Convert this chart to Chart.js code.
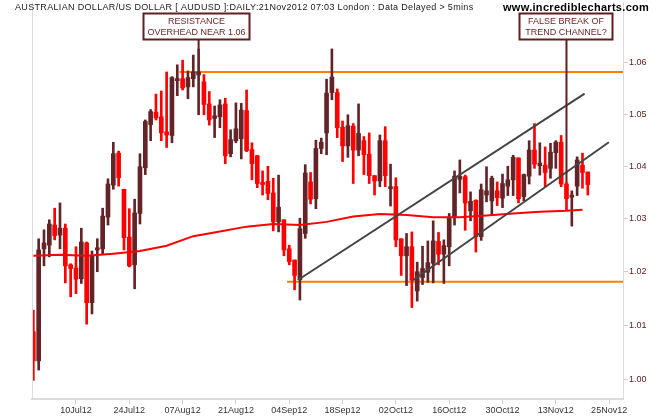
<!DOCTYPE html>
<html>
<head>
<meta charset="UTF-8">
<title>AUDUSD Daily</title>
<script src="https://cdn.jsdelivr.net/npm/chart.js"></script>
<style>
    body { margin: 0; background: #fff; }
    #audChart { display: block; }
</style>
</head>
<body>
<canvas id="audChart" width="660" height="420"></canvas>
<script>
    // one candle per trading day, first bar 28 Jun 2012, last 21 Nov 2012
    const opens = [
        1.0088, 1.0034, 1.0243, 1.0250, 1.0288, 1.0269, 1.0282, 1.0213, 1.0207, 1.0187,
        1.0254, 1.0142, 1.0241, 1.0243, 1.0303, 1.0364, 1.0425, 1.0356, 1.0265, 1.0213,
        1.0310, 1.0397, 1.0480, 1.0504, 1.0495, 1.0466, 1.0459, 1.0565, 1.0569, 1.0553,
        1.0569, 1.0576, 1.0563, 1.0520, 1.0492, 1.0495, 1.0520, 1.0424, 1.0449, 1.0453,
        1.0507, 1.0432, 1.0420, 1.0369, 1.0371, 1.0349, 1.0294, 1.0298, 1.0243, 1.0222,
        1.0185, 1.0272, 1.0370, 1.0338, 1.0434, 1.0464, 1.0542, 1.0542, 1.0475, 1.0439,
        1.0477, 1.0431, 1.0449, 1.0423, 1.0382, 1.0372, 1.0449, 1.0357, 1.0361, 1.0262,
        1.0230, 1.0247, 1.0164, 1.0189, 1.0199, 1.0216, 1.0257, 1.0233, 1.0247, 1.0302,
        1.0375, 1.0380, 1.0315, 1.0335, 1.0266, 1.0345, 1.0334, 1.0353, 1.0339, 1.0362,
        1.0374, 1.0416, 1.0342, 1.0381, 1.0431, 1.0401, 1.0402, 1.0396, 1.0426, 1.0446,
        1.0366, 1.0341, 1.0362, 1.0402, 1.0389
    ];
    const highs = [
        1.0128, 1.0262, 1.0279, 1.0298, 1.0320, 1.0330, 1.0290, 1.0215, 1.0247, 1.0282,
        1.0256, 1.0239, 1.0262, 1.0320, 1.0376, 1.0446, 1.0429, 1.0356, 1.0319, 1.0337,
        1.0424, 1.0489, 1.0509, 1.0539, 1.0545, 1.0582, 1.0573, 1.0596, 1.0605, 1.0584,
        1.0615, 1.0627, 1.0577, 1.0544, 1.0516, 1.0528, 1.0531, 1.0470, 1.0522, 1.0521,
        1.0547, 1.0445, 1.0421, 1.0391, 1.0400, 1.0377, 1.0383, 1.0298, 1.0250, 1.0222,
        1.0301, 1.0403, 1.0388, 1.0450, 1.0454, 1.0568, 1.0627, 1.0549, 1.0487, 1.0499,
        1.0482, 1.0520, 1.0457, 1.0464, 1.0382, 1.0460, 1.0476, 1.0404, 1.0378, 1.0262,
        1.0272, 1.0275, 1.0218, 1.0248, 1.0258, 1.0296, 1.0274, 1.0260, 1.0310, 1.0391,
        1.0412, 1.0383, 1.0351, 1.0336, 1.0366, 1.0399, 1.0381, 1.0370, 1.0385, 1.0400,
        1.0421, 1.0416, 1.0385, 1.0449, 1.0482, 1.0445, 1.0437, 1.0444, 1.0449, 1.0459,
        1.0369, 1.0353, 1.0418, 1.0425, 1.0389
    ];
    const lows = [
        0.9998, 1.0017, 1.0211, 1.0228, 1.0260, 1.0243, 1.0179, 1.0153, 1.0159, 1.0178,
        1.0102, 1.0121, 1.0200, 1.0234, 1.0288, 1.0356, 1.0362, 1.0241, 1.0209, 1.0168,
        1.0290, 1.0384, 1.0449, 1.0489, 1.0449, 1.0436, 1.0445, 1.0536, 1.0547, 1.0530,
        1.0553, 1.0499, 1.0499, 1.0479, 1.0455, 1.0474, 1.0405, 1.0418, 1.0445, 1.0414,
        1.0428, 1.0374, 1.0359, 1.0345, 1.0336, 1.0277, 1.0275, 1.0230, 1.0213, 1.0166,
        1.0147, 1.0263, 1.0328, 1.0319, 1.0424, 1.0422, 1.0528, 1.0455, 1.0409, 1.0417,
        1.0367, 1.0420, 1.0384, 1.0367, 1.0345, 1.0361, 1.0361, 1.0324, 1.0247, 1.0193,
        1.0174, 1.0133, 1.0145, 1.0176, 1.0180, 1.0179, 1.0213, 1.0178, 1.0211, 1.0288,
        1.0349, 1.0278, 1.0296, 1.0237, 1.0259, 1.0332, 1.0306, 1.0325, 1.0321, 1.0344,
        1.0344, 1.0330, 1.0334, 1.0366, 1.0396, 1.0383, 1.0361, 1.0377, 1.0396, 1.0361,
        1.0317, 1.0286, 1.0344, 1.0358, 1.0345
    ];
    const closes = [
        1.0034, 1.0241, 1.0254, 1.0290, 1.0268, 1.0282, 1.0211, 1.0206, 1.0186, 1.0256,
        1.0142, 1.0230, 1.0245, 1.0305, 1.0366, 1.0424, 1.0378, 1.0264, 1.0211, 1.0311,
        1.0399, 1.0486, 1.0505, 1.0493, 1.0464, 1.0460, 1.0571, 1.0569, 1.0551, 1.0571,
        1.0582, 1.0582, 1.0519, 1.0489, 1.0497, 1.0518, 1.0420, 1.0451, 1.0472, 1.0508,
        1.0430, 1.0405, 1.0367, 1.0365, 1.0348, 1.0294, 1.0322, 1.0241, 1.0219, 1.0193,
        1.0281, 1.0387, 1.0337, 1.0434, 1.0446, 1.0541, 1.0572, 1.0474, 1.0439, 1.0478,
        1.0431, 1.0463, 1.0422, 1.0382, 1.0372, 1.0449, 1.0382, 1.0360, 1.0260, 1.0230,
        1.0247, 1.0184, 1.0200, 1.0206, 1.0217, 1.0258, 1.0233, 1.0249, 1.0303, 1.0381,
        1.0381, 1.0330, 1.0333, 1.0266, 1.0355, 1.0353, 1.0377, 1.0340, 1.0367, 1.0374,
        1.0417, 1.0338, 1.0384, 1.0431, 1.0404, 1.0406, 1.0388, 1.0427, 1.0446, 1.0366,
        1.0338, 1.0343, 1.0412, 1.0388, 1.0365
    ];

    // moving average, read every 5th bar
    const maDays   = [0, 5, 10, 15, 20, 25, 30, 35, 40, 45, 50, 55, 60, 65, 70, 75, 80, 85, 90, 95, 100, 103];
    const maValues = [1.0230, 1.0232, 1.0230, 1.0234, 1.0239, 1.0249, 1.0267, 1.0276, 1.0285, 1.0290, 1.0288,
                      1.0294, 1.0304, 1.0309, 1.0307, 1.0303, 1.0303, 1.0306, 1.0310, 1.0313, 1.0315, 1.0317];

    // support / resistance and trend channel (day, price)
    const resistance = [[27.4, 1.0582], [110.6, 1.0582]];
    const support    = [[47.6, 1.0181], [110.6, 1.0181]];
    const channelTop = [[49.7, 1.0185], [103.4, 1.0540]];
    const channelLow = [[71.2, 1.0184], [107.95, 1.0446]];

    const xTickDays   = [8, 18, 28, 38, 48, 58, 68, 78, 88, 98, 108];
    const xTickLabels = ['10Jul12', '24Jul12', '07Aug12', '21Aug12', '04Sep12', '18Sep12',
                         '02Oct12', '16Oct12', '30Oct12', '13Nov12', '25Nov12'];
    const yTicks = [1.00, 1.01, 1.02, 1.03, 1.04, 1.05, 1.06];

    const titleText = 'AUSTRALIAN DOLLAR/US DOLLAR [ AUDUSD ]:DAILY:21Nov2012 07:03 London : Data Delayed > 5mins';
    const notes = [
        { lines: ['RESISTANCE', 'OVERHEAD NEAR 1.06'], day: 31, left: 143.5, right: 249.5 },
        { lines: ['FALSE BREAK OF', 'TREND CHANNEL?'], day: 100, left: 519.5, right: 612.5 }
    ];

    const UP = '#632428';
    const DOWN = '#ff0000';
    const FONT = '"Liberation Sans", Arial, sans-serif';

    const days = opens.map((_, i) => i);
    const candleColors = days.map(i => closes[i] >= opens[i] ? UP : DOWN);
    const toPoints = arr => arr.map(([x, y]) => ({ x, y }));

    // draws frame, title, watermark and callout boxes
    const overlay = {
        id: 'overlay',
        beforeDraw(chart) {
            const ctx = chart.ctx;
            ctx.save();
            ctx.fillStyle = '#fff';
            ctx.fillRect(0, 0, chart.width, chart.height);
            ctx.restore();
        },
        afterDraw(chart) {
            const { ctx, chartArea: a, scales } = chart;
            ctx.save();
            ctx.strokeStyle = '#dcdcdc';
            ctx.lineWidth = 1;
            ctx.beginPath();
            ctx.moveTo(a.left + 0.5, a.top);
            ctx.lineTo(a.left + 0.5, a.bottom);
            ctx.stroke();

            ctx.textBaseline = 'alphabetic';
            ctx.textAlign = 'left';
            ctx.fillStyle = '#222';
            ctx.font = '9px ' + FONT;
            ctx.letterSpacing = '0.33px';
            ctx.fillText(titleText, 15, 9.5);

            ctx.fillStyle = '#000';
            ctx.font = 'bold 11px ' + FONT;
            ctx.letterSpacing = '0.3px';
            ctx.fillText('www.incrediblecharts.com', 503, 11);
            ctx.letterSpacing = '0px';

            notes.forEach(n => {
                const px = scales.x.getPixelForValue(n.day);
                const py = scales.y.getPixelForValue(highs[n.day]);
                ctx.strokeStyle = '#5e1f1f';
                ctx.lineWidth = 2;
                ctx.beginPath();
                ctx.moveTo(px, 40);
                ctx.lineTo(px, py);
                ctx.stroke();
                ctx.fillStyle = '#fff';
                ctx.fillRect(n.left, 13.5, n.right - n.left, 26);
                ctx.strokeRect(n.left, 13.5, n.right - n.left, 26);
                ctx.fillStyle = '#6b1e1e';
                ctx.font = '9px ' + FONT;
                ctx.textAlign = 'center';
                const cx = (n.left + n.right) / 2;
                ctx.fillText(n.lines[0], cx, 24);
                ctx.fillText(n.lines[1], cx, 35);
                ctx.textAlign = 'left';
            });
            ctx.restore();
        }
    };

    const lineSet = (data, color, order) => ({
        type: 'line',
        data,
        borderColor: color,
        borderWidth: 2,
        pointRadius: 0,
        fill: false,
        tension: 0,
        order
    });

    const noEdgePadding = s => {
        s.paddingTop = 0;
        s.paddingBottom = 0;
        s.paddingLeft = 0;
        s.paddingRight = 0;
    };

    const ctx = document.getElementById('audChart').getContext('2d');
    const audChart = new Chart(ctx, {
        type: 'bar',
        data: {
            datasets: [
                {
                    label: 'range',
                    data: days.map(i => ({ x: i, y: [lows[i], highs[i]] })),
                    backgroundColor: candleColors,
                    barThickness: 2,
                    grouped: false,
                    order: 3
                },
                {
                    label: 'body',
                    data: days.map(i => ({ x: i, y: [Math.min(opens[i], closes[i]), Math.max(opens[i], closes[i])] })),
                    backgroundColor: candleColors,
                    barThickness: 4,
                    minBarLength: 2,
                    grouped: false,
                    order: 2
                },
                lineSet(maDays.map((d, k) => ({ x: d, y: maValues[k] })), '#ff0000', 1),
                lineSet(toPoints(resistance), '#ff8000', 4),
                lineSet(toPoints(support), '#ff8000', 4),
                lineSet(toPoints(channelTop), '#444444', 0),
                lineSet(toPoints(channelLow), '#444444', 0)
            ]
        },
        options: {
            responsive: false,
            devicePixelRatio: 1,
            animation: false,
            layout: { padding: { left: 32, top: 2, right: 0, bottom: 0 } },
            plugins: { legend: { display: false }, tooltip: { enabled: false } },
            scales: {
                x: {
                    type: 'linear',
                    min: -0.25,
                    max: 110.6,
                    offset: false,
                    grid: { offset: false, drawOnChartArea: false, tickLength: 5, color: '#cfcfcf' },
                    border: { display: true, color: '#dcdcdc', width: 2 },
                    ticks: {
                        autoSkip: false,
                        maxRotation: 0,
                        padding: 1,
                        color: '#333',
                        font: { family: FONT, size: 9 },
                        callback: (v, i) => xTickLabels[i]
                    },
                    afterBuildTicks: s => { s.ticks = xTickDays.map(v => ({ value: v })); },
                    afterFit: s => { s.height = 21; noEdgePadding(s); }
                },
                y: {
                    type: 'logarithmic',
                    position: 'right',
                    min: 0.99638,
                    max: 1.07192,
                    grid: { drawOnChartArea: false, tickLength: 5, color: '#cfcfcf' },
                    border: { display: true, color: '#dcdcdc', width: 1 },
                    ticks: {
                        padding: 1,
                        color: '#5a1a1a',
                        font: { family: FONT, size: 9 },
                        callback: v => Number(v).toFixed(2)
                    },
                    afterBuildTicks: s => { s.ticks = yTicks.map(v => ({ value: v })); },
                    afterFit: s => { s.width = 37; noEdgePadding(s); }
                }
            }
        },
        plugins: [overlay]
    });
</script>
</body>
</html>
